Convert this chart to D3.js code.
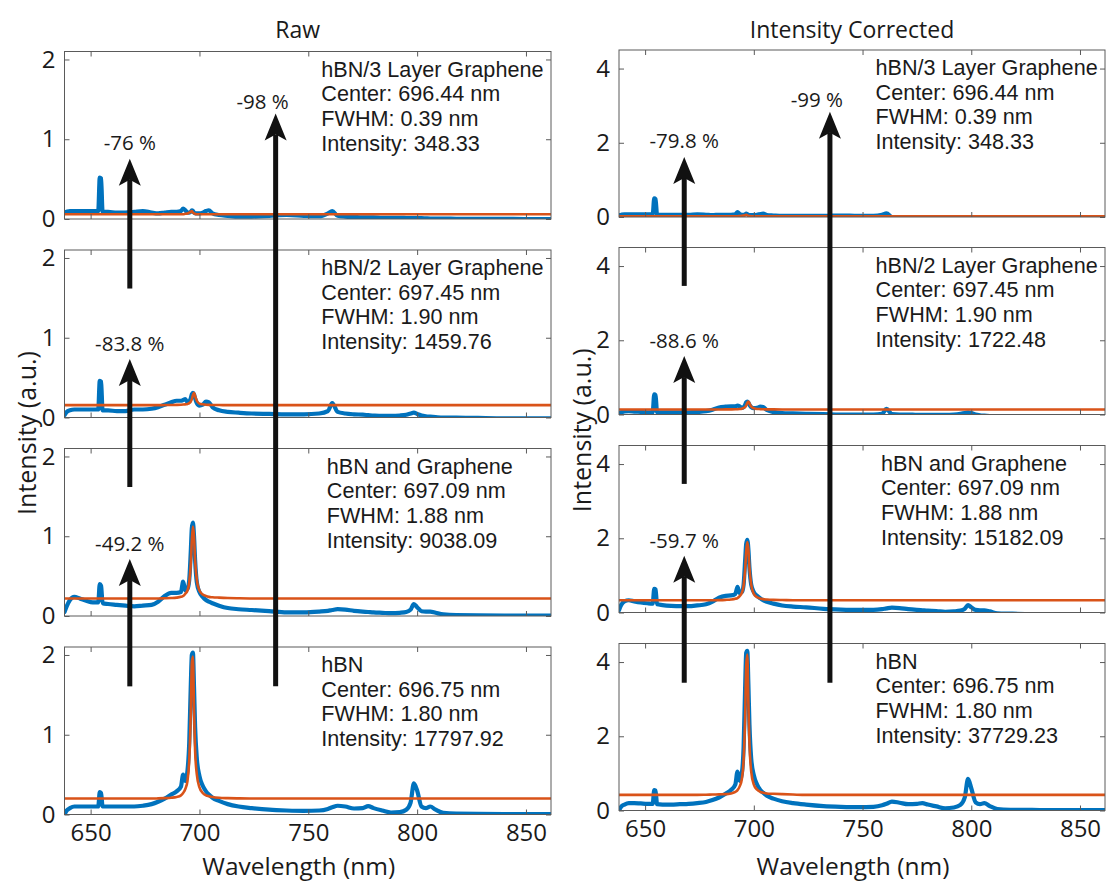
<!DOCTYPE html>
<html><head><meta charset="utf-8">
<script src="https://cdn.jsdelivr.net/npm/d3@7"></script>
<style>
body{margin:0;background:#fff;}
svg text{font-family:"Open Sans",sans-serif;fill:#1a1a1a;}
svg text.note{font-family:"Liberation Sans",Arial,sans-serif;}
</style></head><body>
<svg id="chart" width="1107" height="883"></svg>
<script>
// ---------- DATA ----------
const wavelength = [
  638, 639, 640.5, 642.5, 645, 648, 651, 653.5, 654.2, 654.8,
  655.5, 658, 662, 666, 670, 674, 678, 681, 684, 687,
  689.5, 691.5, 692.5, 693.5, 694.5, 695.3, 696, 696.5, 697, 697.5,
  698, 698.8, 700, 701.5, 703, 704.3, 706, 709, 713, 718,
  724, 732, 740, 748, 755, 759, 761, 763.5, 767, 771,
  775, 777.5, 780, 784, 788, 792, 795, 797, 798.5, 800,
  802, 804, 806, 808.5, 812, 818, 828, 840, 850, 861.5
];

// Raw spectra (blue)
const raw3Layer = [
  0.08, 0.09, 0.10, 0.10, 0.10, 0.10, 0.10, 0.10, 0.52, 0.51,
  0.09, 0.09, 0.08, 0.08, 0.09, 0.10, 0.08, 0.07, 0.08, 0.09,
  0.09, 0.10, 0.13, 0.11, 0.08, 0.08, 0.09, 0.11, 0.10, 0.08,
  0.07, 0.07, 0.07, 0.08, 0.10, 0.11, 0.07, 0.05, 0.04, 0.03,
  0.03, 0.04, 0.05, 0.04, 0.035, 0.07, 0.10, 0.04, 0.03, 0.025,
  0.02, 0.02, 0.02, 0.015, 0.015, 0.015, 0.012, 0.01, 0.01, 0.01,
  0.01, 0.008, 0.006, 0.005, 0.005, 0.003, 0.002, 0.001, 0, 0
];
const raw2Layer = [
  0.03, 0.07, 0.09, 0.10, 0.10, 0.10, 0.10, 0.10, 0.46, 0.45,
  0.09, 0.09, 0.08, 0.08, 0.10, 0.10, 0.11, 0.13, 0.16, 0.19,
  0.21, 0.21, 0.22, 0.23, 0.19, 0.20, 0.24, 0.29, 0.31, 0.29,
  0.24, 0.18, 0.15, 0.16, 0.20, 0.19, 0.13, 0.09, 0.07, 0.06,
  0.05, 0.045, 0.04, 0.04, 0.05, 0.08, 0.18, 0.07, 0.05, 0.04,
  0.035, 0.03, 0.025, 0.02, 0.02, 0.025, 0.035, 0.05, 0.06, 0.045,
  0.025, 0.015, 0.01, 0.005, 0, 0, -0.005, -0.01, -0.01, -0.01
];
const rawGraphene = [
  0.05, 0.12, 0.20, 0.24, 0.22, 0.19, 0.17, 0.17, 0.40, 0.38,
  0.16, 0.15, 0.14, 0.13, 0.12, 0.13, 0.14, 0.18, 0.25, 0.29,
  0.29, 0.30, 0.43, 0.32, 0.34, 0.45, 0.80, 1.10, 1.17, 1.00,
  0.70, 0.42, 0.30, 0.24, 0.20, 0.18, 0.16, 0.13, 0.10, 0.085,
  0.075, 0.06, 0.045, 0.045, 0.055, 0.065, 0.075, 0.085, 0.08, 0.065,
  0.055, 0.05, 0.045, 0.04, 0.035, 0.04, 0.05, 0.08, 0.15, 0.11,
  0.06, 0.055, 0.055, 0.04, 0.02, 0.01, 0.008, 0.006, 0.005, 0.005
];
const rawHBN = [
  0.00, 0.05, 0.08, 0.10, 0.10, 0.10, 0.10, 0.10, 0.28, 0.27,
  0.10, 0.10, 0.10, 0.10, 0.10, 0.11, 0.13, 0.16, 0.20, 0.25,
  0.29, 0.35, 0.50, 0.42, 0.55, 0.90, 1.60, 2.00, 2.03, 1.60,
  1.10, 0.70, 0.48, 0.36, 0.29, 0.25, 0.21, 0.17, 0.13, 0.10,
  0.08, 0.06, 0.05, 0.045, 0.05, 0.07, 0.09, 0.11, 0.10, 0.075,
  0.08, 0.105, 0.08, 0.05, 0.025, 0.03, 0.06, 0.15, 0.39, 0.30,
  0.10, 0.08, 0.10, 0.06, 0.02, 0.01, 0.008, 0.006, 0.005, 0.005
];

// Raw Lorentzian fits (orange)
const fitRaw3Layer = [
  0.06, 0.06, 0.06, 0.06, 0.06, 0.06, 0.06, 0.06, 0.06, 0.06,
  0.06, 0.06, 0.06, 0.06, 0.06, 0.06, 0.06, 0.06, 0.06, 0.06,
  0.06, 0.06, 0.06, 0.065, 0.07, 0.08, 0.09, 0.10, 0.08, 0.07,
  0.065, 0.06, 0.06, 0.06, 0.06, 0.06, 0.06, 0.06, 0.06, 0.06,
  0.06, 0.06, 0.06, 0.06, 0.06, 0.06, 0.06, 0.06, 0.06, 0.06,
  0.06, 0.06, 0.06, 0.06, 0.06, 0.06, 0.06, 0.06, 0.06, 0.06,
  0.06, 0.06, 0.06, 0.06, 0.06, 0.06, 0.06, 0.06, 0.06, 0.06
];
const fitRaw2Layer = [
  0.155, 0.155, 0.155, 0.155, 0.155, 0.155, 0.155, 0.155, 0.155, 0.155,
  0.155, 0.155, 0.155, 0.155, 0.155, 0.155, 0.155, 0.155, 0.156, 0.157,
  0.158, 0.16, 0.162, 0.165, 0.17, 0.18, 0.20, 0.23, 0.28, 0.31,
  0.27, 0.21, 0.174, 0.165, 0.16, 0.158, 0.157, 0.156, 0.155, 0.155,
  0.155, 0.155, 0.155, 0.155, 0.155, 0.155, 0.155, 0.155, 0.155, 0.155,
  0.155, 0.155, 0.155, 0.155, 0.155, 0.155, 0.155, 0.155, 0.155, 0.155,
  0.155, 0.155, 0.155, 0.155, 0.155, 0.155, 0.155, 0.155, 0.155, 0.155
];
const fitRawGraphene = [
  0.22, 0.22, 0.22, 0.22, 0.22, 0.22, 0.22, 0.22, 0.22, 0.22,
  0.22, 0.22, 0.22, 0.22, 0.22, 0.22, 0.22, 0.22, 0.222, 0.225,
  0.23, 0.24, 0.25, 0.28, 0.32, 0.42, 0.65, 0.95, 1.12, 1.00,
  0.70, 0.45, 0.32, 0.27, 0.25, 0.24, 0.235, 0.23, 0.225, 0.222,
  0.22, 0.22, 0.22, 0.22, 0.22, 0.22, 0.22, 0.22, 0.22, 0.22,
  0.22, 0.22, 0.22, 0.22, 0.22, 0.22, 0.22, 0.22, 0.22, 0.22,
  0.22, 0.22, 0.22, 0.22, 0.22, 0.22, 0.22, 0.22, 0.22, 0.22
];
const fitRawHBN = [
  0.20, 0.20, 0.20, 0.20, 0.20, 0.20, 0.20, 0.20, 0.20, 0.20,
  0.20, 0.20, 0.20, 0.20, 0.20, 0.20, 0.20, 0.202, 0.205, 0.21,
  0.22, 0.24, 0.27, 0.32, 0.42, 0.68, 1.25, 1.90, 1.98, 1.30,
  0.80, 0.50, 0.34, 0.27, 0.24, 0.23, 0.22, 0.21, 0.205, 0.202,
  0.20, 0.20, 0.20, 0.20, 0.20, 0.20, 0.20, 0.20, 0.20, 0.20,
  0.20, 0.20, 0.20, 0.20, 0.20, 0.20, 0.20, 0.20, 0.20, 0.20,
  0.20, 0.20, 0.20, 0.20, 0.20, 0.20, 0.20, 0.20, 0.20, 0.20
];

// Intensity-corrected spectra (blue)
const corr3Layer = [
  0.05, 0.06, 0.07, 0.07, 0.07, 0.07, 0.07, 0.07, 0.50, 0.48,
  0.06, 0.06, 0.06, 0.06, 0.06, 0.07, 0.06, 0.05, 0.06, 0.06,
  0.06, 0.07, 0.13, 0.08, 0.06, 0.06, 0.07, 0.09, 0.08, 0.06,
  0.05, 0.05, 0.05, 0.06, 0.08, 0.09, 0.05, 0.04, 0.03, 0.03,
  0.03, 0.03, 0.04, 0.03, 0.03, 0.06, 0.10, 0.00, -0.02, -0.03,
  -0.03, -0.03, -0.03, -0.03, -0.04, -0.04, -0.04, -0.04, -0.04, -0.04,
  -0.04, -0.04, -0.04, -0.04, -0.04, -0.04, -0.04, -0.04, -0.04, -0.04
];
const corr2Layer = [
  0.02, 0.06, 0.08, 0.09, 0.08, 0.07, 0.06, 0.06, 0.54, 0.52,
  0.06, 0.06, 0.06, 0.06, 0.06, 0.07, 0.09, 0.13, 0.19, 0.21,
  0.22, 0.22, 0.24, 0.22, 0.18, 0.20, 0.26, 0.33, 0.35, 0.32,
  0.26, 0.20, 0.17, 0.18, 0.21, 0.20, 0.12, 0.07, 0.04, 0.03,
  0.02, 0.01, 0.00, 0.00, 0.00, 0.02, 0.15, 0.01, 0.00, 0.00,
  -0.01, -0.01, -0.01, -0.01, -0.01, 0.00, 0.02, 0.04, 0.06, 0.04,
  0.00, -0.02, -0.03, -0.04, -0.05, -0.05, -0.05, -0.05, -0.05, -0.05
];
const corrGraphene = [
  0.06, 0.20, 0.30, 0.33, 0.30, 0.27, 0.25, 0.24, 0.64, 0.62,
  0.22, 0.20, 0.18, 0.17, 0.17, 0.19, 0.22, 0.29, 0.40, 0.45,
  0.46, 0.50, 0.69, 0.52, 0.55, 0.75, 1.40, 1.85, 1.96, 1.70,
  1.20, 0.75, 0.55, 0.45, 0.38, 0.33, 0.29, 0.24, 0.19, 0.16,
  0.14, 0.10, 0.08, 0.07, 0.07, 0.09, 0.11, 0.13, 0.12, 0.09,
  0.07, 0.06, 0.05, 0.04, 0.02, 0.03, 0.05, 0.10, 0.20, 0.14,
  0.07, 0.06, 0.06, 0.03, -0.02, -0.03, -0.04, -0.04, -0.04, -0.04
];
const corrHBN = [
  0.00, 0.10, 0.16, 0.20, 0.20, 0.19, 0.18, 0.18, 0.55, 0.54,
  0.17, 0.16, 0.16, 0.17, 0.18, 0.20, 0.23, 0.28, 0.35, 0.45,
  0.55, 0.70, 1.05, 0.80, 1.00, 1.70, 3.30, 4.25, 4.30, 3.40,
  2.30, 1.40, 0.95, 0.70, 0.55, 0.48, 0.40, 0.32, 0.25, 0.20,
  0.16, 0.12, 0.10, 0.09, 0.10, 0.14, 0.18, 0.24, 0.21, 0.17,
  0.18, 0.20, 0.16, 0.11, 0.06, 0.08, 0.15, 0.35, 0.85, 0.60,
  0.22, 0.17, 0.20, 0.12, 0.04, 0.02, 0.015, 0.01, 0.01, 0.01
];

// Intensity-corrected fits (orange)
const fitCorr3Layer = [
  0.02, 0.02, 0.02, 0.02, 0.02, 0.02, 0.02, 0.02, 0.02, 0.02,
  0.02, 0.02, 0.02, 0.02, 0.02, 0.02, 0.02, 0.02, 0.02, 0.02,
  0.02, 0.02, 0.02, 0.025, 0.03, 0.04, 0.05, 0.06, 0.045, 0.03,
  0.025, 0.02, 0.02, 0.02, 0.02, 0.02, 0.02, 0.02, 0.02, 0.02,
  0.02, 0.02, 0.02, 0.02, 0.02, 0.02, 0.02, 0.02, 0.02, 0.02,
  0.02, 0.02, 0.02, 0.02, 0.02, 0.02, 0.02, 0.02, 0.02, 0.02,
  0.02, 0.02, 0.02, 0.02, 0.02, 0.02, 0.02, 0.02, 0.02, 0.02
];
const fitCorr2Layer = [
  0.135, 0.135, 0.135, 0.135, 0.135, 0.135, 0.135, 0.135, 0.135, 0.135,
  0.135, 0.135, 0.135, 0.135, 0.135, 0.135, 0.135, 0.135, 0.136, 0.137,
  0.138, 0.14, 0.143, 0.148, 0.155, 0.18, 0.20, 0.245, 0.31, 0.35,
  0.30, 0.21, 0.17, 0.15, 0.145, 0.14, 0.138, 0.137, 0.136, 0.135,
  0.135, 0.135, 0.135, 0.135, 0.135, 0.135, 0.135, 0.135, 0.135, 0.135,
  0.135, 0.135, 0.135, 0.135, 0.135, 0.135, 0.135, 0.135, 0.135, 0.135,
  0.135, 0.135, 0.135, 0.135, 0.135, 0.135, 0.135, 0.135, 0.135, 0.135
];
const fitCorrGraphene = [
  0.33, 0.33, 0.33, 0.33, 0.33, 0.33, 0.33, 0.33, 0.33, 0.33,
  0.33, 0.33, 0.33, 0.33, 0.33, 0.33, 0.33, 0.33, 0.333, 0.34,
  0.35, 0.37, 0.39, 0.44, 0.53, 0.72, 1.15, 1.65, 1.90, 1.70,
  1.20, 0.75, 0.50, 0.41, 0.38, 0.36, 0.35, 0.34, 0.335, 0.332,
  0.33, 0.33, 0.33, 0.33, 0.33, 0.33, 0.33, 0.33, 0.33, 0.33,
  0.33, 0.33, 0.33, 0.33, 0.33, 0.33, 0.33, 0.33, 0.33, 0.33,
  0.33, 0.33, 0.33, 0.33, 0.33, 0.33, 0.33, 0.33, 0.33, 0.33
];
const fitCorrHBN = [
  0.42, 0.42, 0.42, 0.42, 0.42, 0.42, 0.42, 0.42, 0.42, 0.42,
  0.42, 0.42, 0.42, 0.42, 0.42, 0.42, 0.425, 0.43, 0.435, 0.44,
  0.46, 0.50, 0.55, 0.65, 0.85, 1.35, 2.50, 3.90, 4.20, 2.90,
  1.80, 1.05, 0.70, 0.56, 0.50, 0.48, 0.46, 0.45, 0.44, 0.43,
  0.42, 0.42, 0.42, 0.42, 0.42, 0.42, 0.42, 0.42, 0.42, 0.42,
  0.42, 0.42, 0.42, 0.42, 0.42, 0.42, 0.42, 0.42, 0.42, 0.42,
  0.42, 0.42, 0.42, 0.42, 0.42, 0.42, 0.42, 0.42, 0.42, 0.42
];

// Text
const columnTitles = ["Raw", "Intensity Corrected"];
const sampleNames = ["hBN/3 Layer Graphene", "hBN/2 Layer Graphene", "hBN and Graphene", "hBN"];
const centers = ["696.44", "697.45", "697.09", "696.75"];
const fwhms = ["0.39", "1.90", "1.88", "1.80"];
const intensitiesRaw = ["348.33", "1459.76", "9038.09", "17797.92"];
const intensitiesCorr = ["348.33", "1722.48", "15182.09", "37729.23"];
const arrowLabelsRaw = ["-76 %", "-83.8 %", "-49.2 %", "-98 %"];
const arrowLabelsCorr = ["-79.8 %", "-88.6 %", "-59.7 %", "-99 %"];
const xTicks = [650, 700, 750, 800, 850];
const yTicksRaw = [0, 1, 2];
const yTicksCorr = [0, 2, 4];
const xDomain = [638, 861.5];
const yDomainRaw = [0, 2.1];
const yDomainCorr = [0, 4.5];

// ---------- LAYOUT ----------
const svg = d3.select("#chart");
const colX = [[64.5, 551], [619, 1105]];
const rowTops = [[51.5, 250, 448.5, 647], [50, 247.5, 445.5, 643.5]];
const rowHs = [167.5, 167];
const BLUE = "#0072BD", ORANGE = "#D95319", AXIS = "#5a5a5a";

const columns = [
  {title: columnTitles[0], yDomain: yDomainRaw, yTicks: yTicksRaw,
   blue: [raw3Layer, raw2Layer, rawGraphene, rawHBN],
   fit: [fitRaw3Layer, fitRaw2Layer, fitRawGraphene, fitRawHBN],
   intens: intensitiesRaw, arrowLabels: arrowLabelsRaw},
  {title: columnTitles[1], yDomain: yDomainCorr, yTicks: yTicksCorr,
   blue: [corr3Layer, corr2Layer, corrGraphene, corrHBN],
   fit: [fitCorr3Layer, fitCorr2Layer, fitCorrGraphene, fitCorrHBN],
   intens: intensitiesCorr, arrowLabels: arrowLabelsCorr}
];

// arrow annotation placement: [x nm, fromRow, fromFrac, toRow, toFrac, labelFrac, labelDx nm]
const arrowPlace = [
  [668, 1, 0.77, 0, 0.36, 0.455, 0],
  [668, 2, 0.77, 1, 0.35, 0.44, 0],
  [668, 3, 0.765, 2, 0.34, 0.43, 0],
  [735, 3, 0.765, 0, 0.63, 0.70, -6]
];
const textXnm = [756, 756, 758.5, 756];

const defs = svg.append("defs");

columns.forEach((col, ci) => {
  const x = d3.scaleLinear().domain(xDomain).range(colX[ci]);
  const rowTop = rowTops[ci], rowH = rowHs[ci];
  const midX = (colX[ci][0] + colX[ci][1]) / 2;
  for (let r = 0; r < 4; r++) {
    const y = d3.scaleLinear().domain(col.yDomain).range([rowTop[r] + rowH, rowTop[r]]);
    const g = svg.append("g");
    const cid = `clip-${ci}-${r}`;
    defs.append("clipPath").attr("id", cid).append("rect")
      .attr("x", colX[ci][0]).attr("y", rowTop[r])
      .attr("width", colX[ci][1] - colX[ci][0]).attr("height", rowH);

    const pts = (arr) => wavelength.map((w, i) => [w, arr[i]]);
    const line = d3.line().x(d => x(d[0])).y(d => y(d[1])).curve(d3.curveMonotoneX);

    const plot = g.append("g").attr("clip-path", `url(#${cid})`);
    plot.append("path").datum(pts(col.blue[r]))
      .attr("d", line).attr("fill", "none").attr("stroke", BLUE)
      .attr("stroke-width", 4.2).attr("stroke-linejoin", "round").attr("stroke-linecap", "round");
    plot.append("path").datum(pts(col.fit[r]))
      .attr("d", line).attr("fill", "none").attr("stroke", ORANGE)
      .attr("stroke-width", 2.6).attr("stroke-linejoin", "round");

    // box
    g.append("rect").attr("x", colX[ci][0]).attr("y", rowTop[r])
      .attr("width", colX[ci][1] - colX[ci][0]).attr("height", rowH)
      .attr("fill", "none").attr("stroke", AXIS).attr("stroke-width", 1);

    // axes with inward ticks (MATLAB style, mirrored)
    const tl = 5;
    const xb = g.append("g").attr("transform", `translate(0,${rowTop[r] + rowH})`)
      .call(d3.axisBottom(x).tickValues(xTicks).tickSizeInner(-tl).tickSizeOuter(0).tickPadding(9)
        .tickFormat(r === 3 ? d3.format("d") : () => ""));
    const xt = g.append("g").attr("transform", `translate(0,${rowTop[r]})`)
      .call(d3.axisTop(x).tickValues(xTicks).tickSizeInner(-tl).tickSizeOuter(0).tickFormat(() => ""));
    const yl = g.append("g").attr("transform", `translate(${colX[ci][0]},0)`)
      .call(d3.axisLeft(y).tickValues(col.yTicks).tickSizeInner(-tl).tickSizeOuter(0).tickPadding(9)
        .tickFormat(d3.format("d")));
    const yr = g.append("g").attr("transform", `translate(${colX[ci][1]},0)`)
      .call(d3.axisRight(y).tickValues(col.yTicks).tickSizeInner(-tl).tickSizeOuter(0).tickFormat(() => ""));
    [xb, xt, yl, yr].forEach(a => {
      a.select(".domain").remove();
      a.selectAll(".tick line").attr("stroke", AXIS);
      a.selectAll(".tick text").attr("font-family", "Open Sans, sans-serif")
        .attr("font-size", 24).attr("fill", "#1a1a1a");
    });

    // annotation text (one text element per line)
    const lines = [sampleNames[r], `Center: ${centers[r]} nm`, `FWHM: ${fwhms[r]} nm`, `Intensity: ${col.intens[r]}`];
    lines.forEach((s, i) => g.append("text").attr("class", "note")
      .attr("x", x(textXnm[r])).attr("y", rowTop[r] + 25 + i * 24.7)
      .attr("font-size", 21.6).text(s));
  }

  // column title
  svg.append("text").attr("x", midX - 10).attr("y", 38)
    .attr("text-anchor", "middle").attr("font-size", 23).text(col.title);
  // x label
  svg.append("text").attr("x", midX - 9).attr("y", 875)
    .attr("text-anchor", "middle").attr("font-size", 24.5).text("Wavelength (nm)");
  // y label
  const ylx = ci === 0 ? 36 : 591;
  svg.append("text").attr("transform", `translate(${ylx},${(rowTop[0] + rowTop[3] + rowH) / 2}) rotate(-90)`)
    .attr("text-anchor", "middle").attr("font-size", 25).text("Intensity (a.u.)");

  // arrows
  const yFrac = (row, f) => rowTop[row] + rowH * (1 - f);
  arrowPlace.forEach((a, i) => {
    const ax = x(a[0]);
    const y0 = yFrac(a[1], a[2]);
    const y1 = yFrac(a[3], a[4]);
    const headL = 27, headW = 11, notch = 6;
    svg.append("line").attr("x1", ax).attr("x2", ax).attr("y1", y0).attr("y2", y1 + headL - notch)
      .attr("stroke", "#111").attr("stroke-width", 5);
    svg.append("path")
      .attr("d", `M${ax},${y1} L${ax + headW},${y1 + headL} L${ax},${y1 + headL - notch} L${ax - headW},${y1 + headL} Z`)
      .attr("fill", "#111");
    svg.append("text").attr("x", x(a[0] + a[6])).attr("y", yFrac(a[3], a[5]))
      .attr("dy", "0.35em").attr("text-anchor", "middle").attr("font-size", 20.5)
      .text(col.arrowLabels[i]);
  });
});
</script>
</body></html>
